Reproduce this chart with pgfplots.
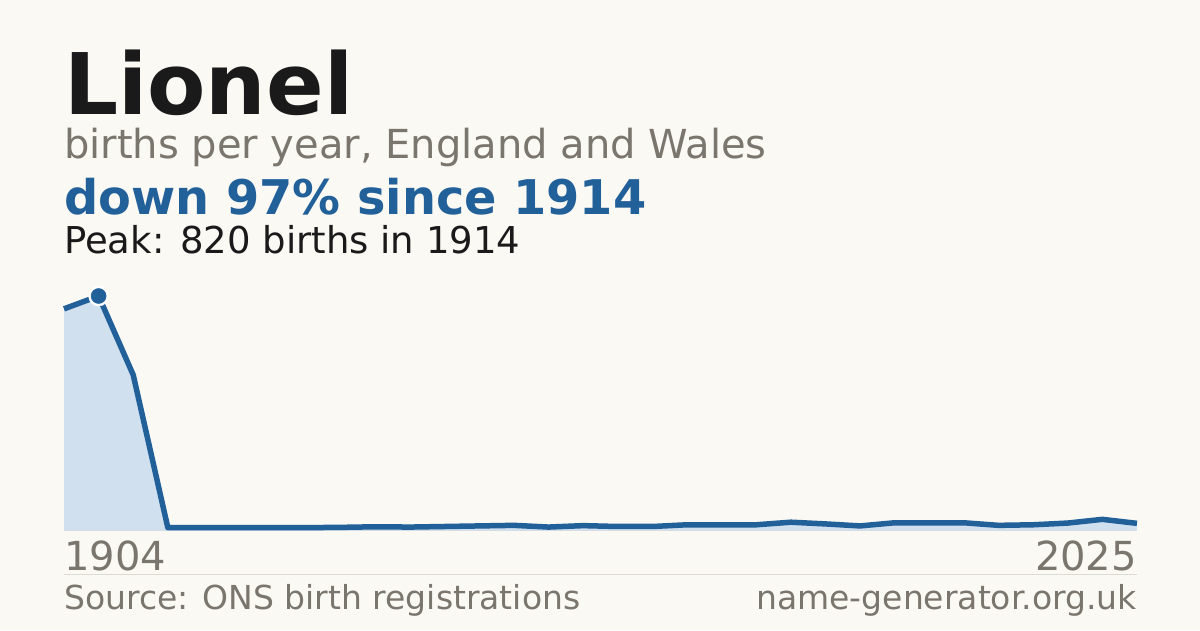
\documentclass[border=0pt]{standalone}
\usepackage{pgfplots}
\pgfplotsset{compat=1.18}
\usepackage{fontspec}
\setmainfont{DejaVu Sans}
\definecolor{bg}{HTML}{FAF9F4}
\definecolor{ink}{HTML}{1A1A1A}
\definecolor{muted}{HTML}{7A756D}
\definecolor{lineblue}{HTML}{22609A}
\definecolor{fillblue}{HTML}{D0E0EF}
\definecolor{rule}{HTML}{DDDAD3}
\pgfplotstableread{
idx val
0 775
1 820
2 544
3 10
4 10
5 10
6 10
7 10
8 11
9 13
10 12
11 14
12 16
13 18
14 12
15 17
16 14
17 14
18 20
19 20
20 20
21 29
22 23
23 16
24 27
25 27
26 27
27 18
28 20
29 26
30 39
31 25
}\births
\begin{document}
\begin{tikzpicture}
\useasboundingbox (0pt,0pt) rectangle (1200pt,630pt);
\fill[bg] (0pt,0pt) rectangle (1200pt,630pt);
\node[anchor=base west,inner sep=0,text=ink] at (64pt,515pt) {\fontsize{85}{85}\selectfont\bfseries Lionel};
\node[anchor=base west,inner sep=0,text=muted] at (64pt,471pt) {\fontsize{40}{40}\selectfont births per year, England and Wales};
\node[anchor=base west,inner sep=0,text=lineblue] at (64pt,415pt) {\fontsize{47.8}{47.8}\selectfont\bfseries down 97\% since 1914};
\node[anchor=base west,inner sep=0,text=ink] at (64pt,376pt) {\fontsize{37}{37}\selectfont Peak: 820 births in 1914};
\draw[rule,line width=1pt] (64pt,99.5pt) -- (1137pt,99.5pt);
\begin{axis}[
  at={(64pt,99.5pt)}, anchor=origin,
  scale only axis, width=1073pt, height=234.5pt,
  xmin=0, xmax=31, ymin=0, ymax=820,
  hide axis, clip=false,
]
\addplot[fill=fillblue, draw=none] table[x=idx,y=val]{\births} \closedcycle;
\addplot[lineblue, line width=5.5pt, line join=round] table[x=idx,y=val]{\births};
\addplot[white, only marks, mark=*, mark size=10pt, mark options={fill=white, draw=white, line width=0.5pt}] coordinates {(1,820)};
\addplot[lineblue, only marks, mark=*, mark size=7.5pt, mark options={fill=lineblue, draw=lineblue, line width=0.5pt}] coordinates {(1,820)};
\end{axis}
\node[anchor=base west,inner sep=0,text=muted] at (64pt,60pt) {\fontsize{40}{40}\selectfont 1904};
\node[anchor=base east,inner sep=0,text=muted] at (1137pt,60pt) {\fontsize{40}{40}\selectfont 2025};
\draw[rule,line width=1pt] (64pt,56pt) -- (1137pt,56pt);
\node[anchor=base west,inner sep=0,text=muted] at (64pt,21pt) {\fontsize{33}{33}\selectfont Source: ONS birth registrations};
\node[anchor=base east,inner sep=0,text=muted] at (1137pt,21pt) {\fontsize{33}{33}\selectfont name-generator.org.uk};
\end{tikzpicture}
\end{document}
